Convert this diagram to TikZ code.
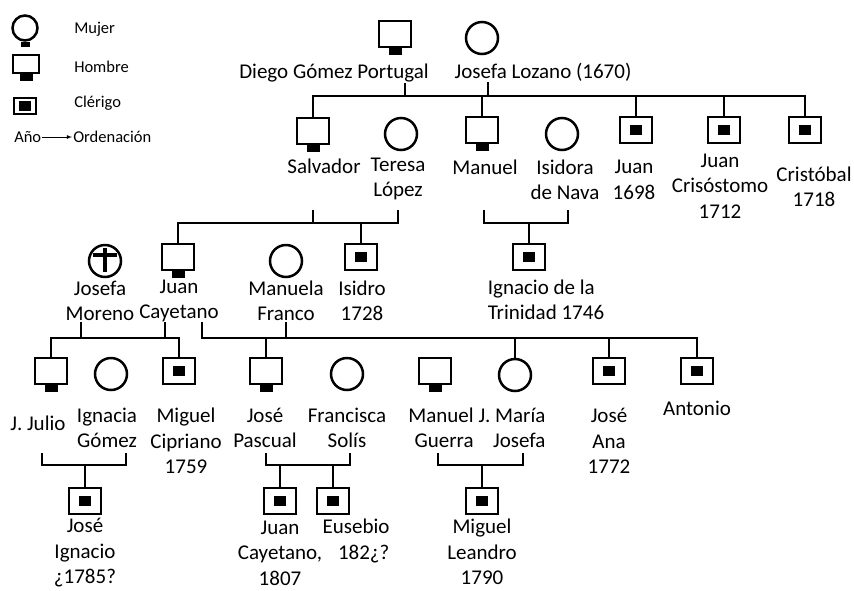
\documentclass[tikz,border=0pt]{standalone}
\usepackage{fontspec}
\setmainfont{Carlito}
\usepackage{tikz}
\usetikzlibrary{positioning,shapes,arrows}

\newcommand{\namefont}{\fontsize{21}{25.5}\selectfont}
\newcommand{\keyfont}{\fontsize{16.5}{19}\selectfont}

\begin{document}
\begin{tikzpicture}
  [x=1pt,y=-1pt,line width=2.5pt,
   every node/.style={inner sep=0pt, font=\namefont},
   tab/.style={fill, outer sep=0pt, minimum width=13pt, minimum height=7pt},
   man/.style={draw, rectangle, minimum width=32pt, minimum height=26pt, label={[tab]below:{}}},
   cleric/.style={draw, rectangle, minimum width=32pt, minimum height=26pt,
     path picture={\fill (path picture bounding box.center) +(-6,-5) rectangle +(6,5);}},
   woman/.style={draw, circle, minimum size=32pt},
   dead/.style={woman, path picture={\draw[line width=3.5pt] (path picture bounding box.center)
     +(0,-13) -- +(0,11) +(-12,-6) -- +(12,-6);}},
   key/.style={font=\keyfont, anchor=west}]
  \useasboundingbox (0,0) rectangle (854,590);

  \node[woman, minimum size=25pt, label={[tab, minimum width=9pt, minimum height=5pt]below:{}}] (kw) at (25,28) {};
  \node[man, minimum width=26pt, minimum height=18pt] (km) at (26,64) {};
  \node[cleric, minimum width=22pt, minimum height=16pt] (kc) at (25,106) {};
  \node[key] (kwt) at (73,29) {Mujer};
  \node[key] (kmt) at (73,67) {Hombre};
  \node[key] (kct) at (73,103) {Clérigo};
  \node[key] (kano) at (13,137) {Año};
  \node[key] (kord) at (72,137) {Ordenación};
  \draw[-latex, line width=0.8pt] (kano.east) -- (kano.east -| kord.west);

  \node[man] (diego) at (395,34) {};
  \node[woman] (josefa) at (482,38) {};
  \node (diegon) at (334,73) {Diego Gómez Portugal};
  \node (josefan) at (543,72) {Josefa Lozano (1670)};

  \node[man] (salvador) at (313,131) {};
  \node[woman] (teresa) at (401,134) {};
  \node[man] (manuel) at (482,130) {};
  \node[woman] (isidora) at (562,134) {};
  \node[cleric] (juan) at (636,130) {};
  \node[cleric] (crisostomo) at (724,130) {};
  \node[cleric] (cristobal) at (805,130) {};
  \node (salvadorn) at (324,166) {Salvador};
  \node[align=center] (teresan) at (398,179) {Teresa\\López};
  \node (manueln) at (485,167) {Manuel};
  \node[align=center] (isidoran) at (565,180) {Isidora\\de Nava};
  \node[align=center] (juann) at (634,180) {Juan\\1698};
  \node[align=center] (crisostomon) at (720,186) {Juan\\Crisóstomo\\1712};
  \node[align=center] (cristobaln) at (814,187) {Cristóbal\\1718};

  \node[dead] (jmoreno) at (105,261) {};
  \node[man] (jcayetano) at (178,257) {};
  \node[woman] (manuela) at (286,261) {};
  \node[cleric] (isidro) at (361,257) {};
  \node[cleric] (ignacio) at (529,257) {};
  \node[align=center] (jmorenon) at (100,301) {Josefa\\Moreno};
  \node[align=center] (jcayetanon) at (179,301) {Juan\\Cayetano};
  \node[align=center] (manuelan) at (286,301) {Manuela\\Franco};
  \node[align=center] (isidron) at (362,301) {Isidro\\1728};
  \node[align=left] (ignacion) at (546,300) {Ignacio de la\\Trinidad 1746};

  \node[man] (julio) at (51,371) {};
  \node[woman] (ignacia) at (111,374) {};
  \node[cleric] (mcipriano) at (179,371) {};
  \node[man] (pascual) at (266,371) {};
  \node[woman] (francisca) at (347,374) {};
  \node[man] (guerra) at (435,371) {};
  \node[woman] (jmaria) at (515,375) {};
  \node[cleric] (jana) at (609,371) {};
  \node[cleric] (antonio) at (697,371) {};
  \node (julion) at (38,423) {J. Julio};
  \node[align=center] (ignacian) at (107,428) {Ignacia\\Gómez};
  \node[align=center] (mciprianon) at (186,441) {Miguel\\Cipriano\\1759};
  \node[align=center] (pascualn) at (265,428) {José\\Pascual};
  \node[align=center] (franciscan) at (347,428) {Francisca\\Solís};
  \node[align=right] (guerran) at (441,428) {Manuel\\Guerra};
  \node[align=right] (jmarian) at (512,428) {J. María\\Josefa};
  \node[align=center] (janan) at (609,441) {José\\Ana\\1772};
  \node (antonion) at (697,408) {Antonio};

  \node[cleric] (jignacio) at (85,501) {};
  \node[cleric] (jcay) at (280,501) {};
  \node[cleric] (eusebio) at (333,501) {};
  \node[cleric] (leandro) at (482,501) {};
  \node[align=center] (jignacion) at (85,553) {José\\Ignacio\\¿1785?};
  \node[align=center] (jcayn) at (280,553) {Juan\\Cayetano,\\1807};
  \node[align=right] (eusebion) at (356,541) {Eusebio\\182¿?};
  \node[align=center] (leandron) at (482,552) {Miguel\\Leandro\\1790};

  \coordinate (bar0) at (0,96);
  \coordinate (d0) at (405,96);
  \coordinate (j0) at (488,96);
  \draw (d0 |- diegon.south) -- (d0);
  \draw (j0 |- josefan.south) -- (j0);
  \draw (salvador) |- (cristobal |- bar0) -- (cristobal);
  \foreach \n in {manuel,juan,crisostomo}
    \draw (\n) -- (\n |- bar0);

  \coordinate (bar1) at (0,223);
  \coordinate (st1) at (313,210);
  \coordinate (st2) at (398,210);
  \coordinate (mi1) at (484,210);
  \coordinate (mi2) at (568,210);
  \foreach \a/\b in {st1/st2, mi1/mi2}
    \draw (\a) -- (\a |- bar1) -| (\b);
  \draw (jcayetano) |- (st1 |- bar1);
  \foreach \n in {isidro,ignacio}
    \draw (\n) -- (\n |- bar1);

  \coordinate (bar2) at (0,338);
  \coordinate (jm1) at (81,322);
  \coordinate (jm2) at (165,322);
  \coordinate (jf1) at (202,322);
  \coordinate (jf2) at (286,322);
  \foreach \a/\b in {jm1/jm2, jf1/jf2}
    \draw (\a) -- (\a |- bar2) -| (\b);
  \draw (julio) |- (mcipriano |- bar2) -- (mcipriano);
  \draw (pascual) |- (antonio |- bar2) -- (antonio);
  \foreach \n in {jmaria,jana}
    \draw (\n) -- (\n |- bar2);

  \coordinate (bar3) at (0,465);
  \coordinate (ji1) at (42,453);
  \coordinate (ji2) at (126,453);
  \coordinate (pf1) at (266,453);
  \coordinate (pf2) at (350,453);
  \coordinate (gm1) at (438,453);
  \coordinate (gm2) at (523,453);
  \foreach \a/\b in {ji1/ji2, pf1/pf2, gm1/gm2}
    \draw (\a) -- (\a |- bar3) -| (\b);
  \foreach \n in {jignacio,jcay,eusebio,leandro}
    \draw (\n) -- (\n |- bar3);
\end{tikzpicture}
\end{document}
